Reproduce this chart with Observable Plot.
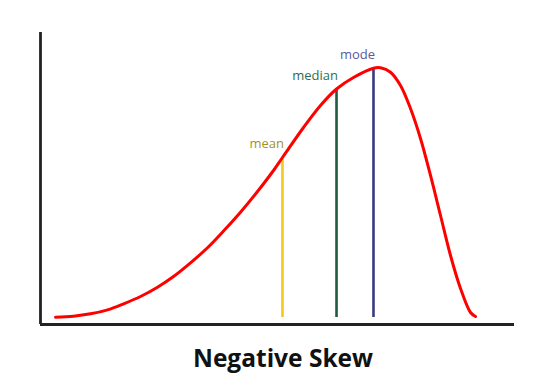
<!DOCTYPE html>
<html>
<head>
<meta charset="utf-8">
<script src="https://cdn.jsdelivr.net/npm/d3@7"></script>
<script src="https://cdn.jsdelivr.net/npm/@observablehq/plot@0.6"></script>
<style>
  html, body { margin: 0; padding: 0; background: #fff; }
  #title { font-family: "Open Sans", sans-serif; font-weight: 700; font-size: 24.5px;
           width: 546px; text-align: center; padding-left: 20px; box-sizing: border-box;
           line-height: 30px; margin-top: 2.5px; color: #111; }
</style>
</head>
<body>
<div id="chart"></div>
<div id="title">Negative Skew</div>
<script>
// Density curve (arbitrary units: x 0–100, y 0–100)
const curveX = [3.16, 6.96, 10.55, 14.14, 17.51, 21.10, 24.68, 28.06, 31.65, 35.23, 38.61, 42.19, 45.78, 49.16, 51.05, 55.49, 59.07, 62.45, 66.03, 70.25, 71.73, 73.84, 75.95, 78.06, 80.17, 82.28, 84.39, 86.50, 88.61, 90.72, 91.77];
const curveY = [2.50, 2.84, 3.66, 5.03, 7.09, 9.59, 12.77, 16.44, 21.12, 26.27, 32.00, 38.46, 45.55, 52.74, 57.19, 67.47, 75.00, 80.65, 84.59, 87.77, 87.91, 86.40, 81.85, 73.97, 63.70, 51.03, 37.33, 23.63, 12.33, 4.11, 2.74];

// Central-tendency markers
const statNames = ["mean", "median", "mode"];
const statX = [51.05, 62.45, 70.25];
const statTop = [57.3, 80.7, 87.7];
const statBase = 2.4;
const lineColors = ["#f7c71c", "#1f5a40", "#3b3b80"];
const labelColors = ["#a4921f", "#2e6e50", "#5a5a9c"];

const curve = curveX.map((x, i) => ({x, y: curveY[i]}));
const stats = statNames.map((name, i) => ({name, x: statX[i], top: statTop[i], line: lineColors[i], label: labelColors[i]}));

const plot = Plot.plot({
  width: 546,
  height: 340,
  marginLeft: 40,
  marginRight: 32,
  marginTop: 32,
  marginBottom: 16,
  x: {domain: [0, 100], axis: null},
  y: {domain: [0, 100], axis: null},
  style: {fontFamily: "'Open Sans', sans-serif", background: "#fff"},
  marks: [
    Plot.ruleX(stats, {x: "x", y1: statBase, y2: "top", stroke: "line", strokeWidth: 2.6}),
    Plot.line(curve, {x: "x", y: "y", stroke: "#ff0000", strokeWidth: 3, curve: "catmull-rom"}),
    Plot.text(stats, {x: "x", y: "top", text: "name", fill: "label", textAnchor: "end", dy: -13.5, dx: 1.5, fontSize: 13}),
    Plot.ruleX([0], {y1: 0, y2: 100, stroke: "#222", strokeWidth: 2.8}),
    Plot.ruleY([0], {x1: 0, x2: 100, stroke: "#222", strokeWidth: 2.8})
  ]
});
document.getElementById("chart").appendChild(plot);
</script>
</body>
</html>
